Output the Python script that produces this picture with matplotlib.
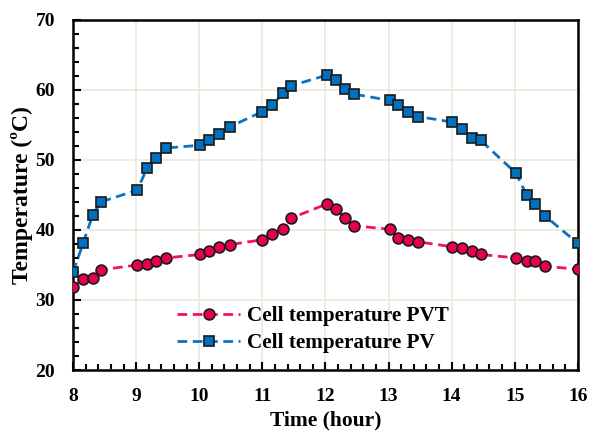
import matplotlib.pyplot as plt
import numpy as np
from matplotlib.ticker import MultipleLocator

# time of day (hour)
t = [8.0, 8.16, 8.31, 8.44, 9.02, 9.17, 9.31, 9.47, 10.02, 10.16, 10.32, 10.48,
     11.0, 11.16, 11.32, 11.46, 12.02, 12.17, 12.31, 12.45, 13.02, 13.15, 13.31, 13.47,
     14.01, 14.16, 14.33, 14.46, 15.02, 15.19, 15.32, 15.48, 16.0]

# cell temperature PVT
pvt = [31.9, 33.0, 33.2, 34.3, 35.0, 35.2, 35.5, 36.0, 36.5, 37.0, 37.5, 37.9,
       38.6, 39.4, 40.1, 41.7, 43.7, 43.0, 41.7, 40.6, 40.1, 38.9, 38.6, 38.3,
       37.6, 37.4, 37.0, 36.5, 36.0, 35.5, 35.6, 34.8, 34.4]

# cell temperature PV
pv = [34.0, 38.1, 42.1, 44.0, 45.7, 48.8, 50.3, 51.7, 52.1, 52.9, 53.7, 54.7,
      56.9, 57.8, 59.5, 60.6, 62.1, 61.4, 60.1, 59.4, 58.5, 57.8, 56.9, 56.2,
      55.4, 54.4, 53.2, 52.8, 48.1, 45.0, 43.7, 42.0, 38.1]

plt.rcParams['font.family'] = ['Liberation Serif', 'DejaVu Serif']
plt.rcParams['font.weight'] = 'bold'

fig = plt.figure(figsize=(5.89, 4.32), dpi=100)
ax = fig.add_axes([0.124, 0.1435, 0.857, 0.8105])

ax.plot(t, pvt, '--o', color='#f0145a', lw=2, dashes=(3.5, 2),
        mfc='#e8004c', mec='#1a1a1a', mew=1.2, ms=7.8, label='Cell temperature PVT', zorder=3)
ax.plot(t, pv, '--s', color='#0a72c4', lw=2, dashes=(3.5, 2),
        mfc='#0070c0', mec='#1a1a1a', mew=1.2, ms=7.5, label='Cell temperature PV', zorder=3)

ax.set_xlim(8, 16)
ax.set_ylim(20, 70)
ax.xaxis.set_major_locator(MultipleLocator(1))
ax.xaxis.set_minor_locator(MultipleLocator(0.2))
ax.yaxis.set_major_locator(MultipleLocator(10))
ax.yaxis.set_minor_locator(MultipleLocator(2))
ax.tick_params(which='both', direction='in', labelsize=14, width=1.5, top=False, right=False)
ax.tick_params(which='major', length=6, pad=13)
ax.tick_params(which='minor', length=4)
for s in ax.spines.values():
    s.set_linewidth(1.8)

ax.grid(True, which='major', color='#ebe7da', lw=1.2, zorder=0)
ax.set_axisbelow(True)

ax.set_xlabel('Time (hour)', fontsize=15.5, fontweight='bold', labelpad=4)
ax.set_ylabel('Temperature (ºC)', fontsize=17, fontweight='bold', labelpad=1.5)

ax.legend(loc='upper left', bbox_to_anchor=(177 / 589, 1 - 306 / 432),
          bbox_transform=fig.transFigure, frameon=False, borderpad=0, borderaxespad=0,
          handlelength=3, handletextpad=0.33, labelspacing=0.35,
          prop={'weight': 'bold', 'size': 15.2})

fig.savefig('out.png', dpi=100)
